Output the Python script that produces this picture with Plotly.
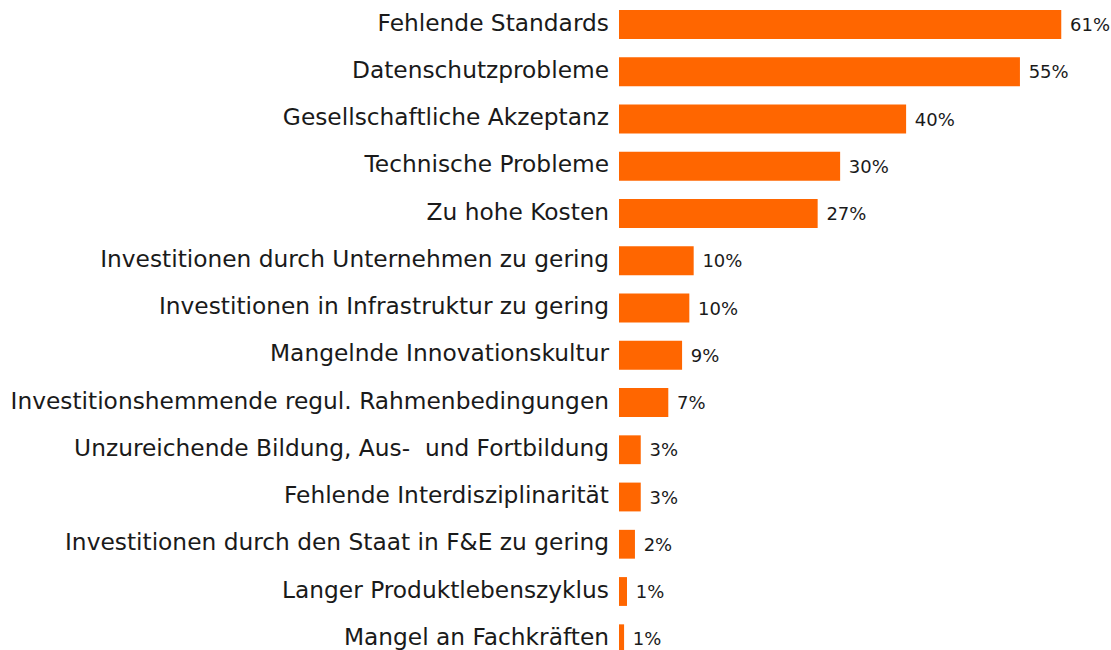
import plotly.graph_objects as go

categories = [
    "Fehlende Standards",
    "Datenschutzprobleme",
    "Gesellschaftliche Akzeptanz",
    "Technische Probleme",
    "Zu hohe Kosten",
    "Investitionen durch Unternehmen zu gering",
    "Investitionen in Infrastruktur zu gering",
    "Mangelnde Innovationskultur",
    "Investitionshemmende regul. Rahmenbedingungen",
    "Unzureichende Bildung, Aus-  und Fortbildung",
    "Fehlende Interdisziplinarität",
    "Investitionen durch den Staat in F&E zu gering",
    "Langer Produktlebenszyklus",
    "Mangel an Fachkräften",
]
values = [61.0, 55.3, 39.6, 30.5, 27.4, 10.3, 9.7, 8.7, 6.8, 3.0, 3.0, 2.2, 1.1, 0.7]
value_labels = ["61%", "55%", "40%", "30%", "27%", "10%", "10%", "9%", "7%",
                "3%", "3%", "2%", "1%", "1%"]

FONT = "DejaVu Sans"

fig = go.Figure(go.Bar(
    x=values,
    y=categories,
    orientation="h",
    marker=dict(color="#FF6600", line=dict(width=0)),
    width=0.61,
    text=value_labels,
    texttemplate=" %{text}",
    textposition="outside",
    textfont=dict(family=FONT, size=18, color="#1a1a1a"),
    cliponaxis=False,
    hoverinfo="skip",
))

fig.update_layout(
    width=1111, height=650,
    margin=dict(l=619, r=0, t=0, b=0, autoexpand=False),
    paper_bgcolor="white", plot_bgcolor="white",
    showlegend=False,
    font=dict(family=FONT, size=23.3, color="#1a1a1a"),
    xaxis=dict(range=[0, 67.86], visible=False, fixedrange=True, automargin=False),
    yaxis=dict(
        type="category",
        categoryorder="array",
        categoryarray=categories,
        range=[13.238, -0.5185],
        automargin=False,
        fixedrange=True,
        showline=False, showgrid=False, zeroline=False,
        ticks="", ticklabelstandoff=9, ticklabelshift=2,
        tickfont=dict(family=FONT, size=23.3, color="#1a1a1a"),
    ),
)

fig.write_html(
    "out.html",
    config={"displayModeBar": False, "staticPlot": True},
    post_script="document.body.style.margin='0';document.body.style.overflow='hidden';",
)
